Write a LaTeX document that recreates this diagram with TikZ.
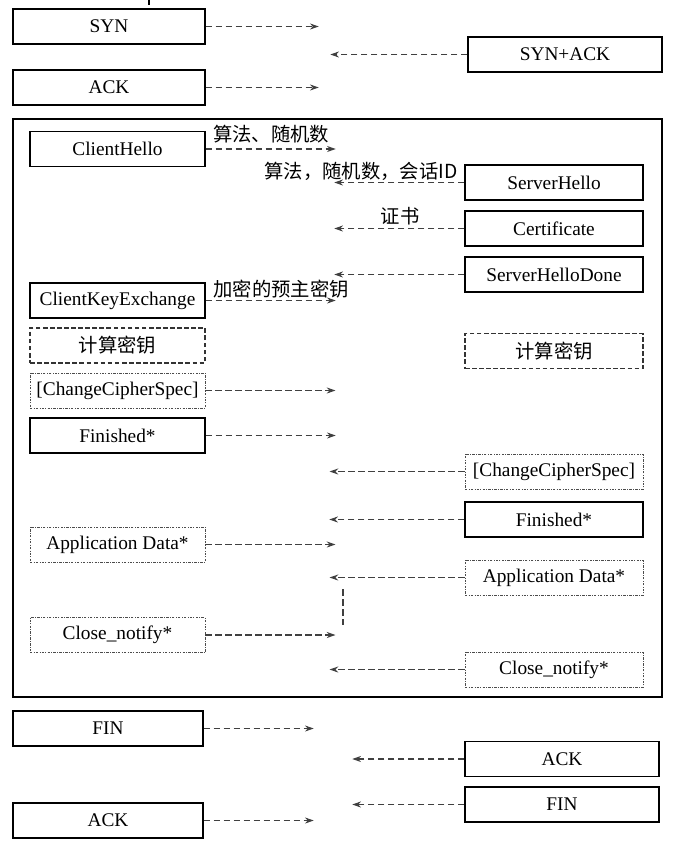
\documentclass[tikz,border=0pt]{standalone}
\usepackage{fontspec}
\setmainfont{Liberation Serif}
\newfontfamily\cjk{Noto Sans CJK SC}
\usetikzlibrary{arrows.meta}
\begin{document}
\begin{tikzpicture}[x=0.75pt,y=-0.75pt,
  font=\fontsize{14.5}{16}\selectfont,
  basebox/.style={minimum height=26.25pt, inner sep=0pt},
  sbox/.style={basebox, draw=black, line width=1.1pt},
  dbox/.style={basebox, draw=black!80, line width=0.8pt, dash pattern=on 3.5pt off 1.8pt},
  pbox/.style={basebox, draw=black!70, line width=0.7pt, dash pattern=on 1.8pt off 1pt on 0.6pt off 1pt},
  wide/.style={minimum width=144pt},
  lw/.style={minimum width=131.25pt},
  rw/.style={minimum width=133.5pt},
  msg/.style={draw=black!75, line width=0.9pt, dash pattern=on 5pt off 2.5pt,
    -{Stealth[length=6.5pt,width=4.5pt]}},
  lab/.style={font=\cjk\fontsize{14.5}{16}\selectfont, inner sep=0pt}]
\path[use as bounding box] (0,0) rectangle (676,856);

% small mark at top
\coordinate (m1) at (149,0);
\coordinate (m2) at (149,5);
\draw[line width=0.8pt] (m1) -- (m2);

% TCP handshake
\node[sbox,wide] (syn) at (109,26.5) {SYN};
\node[sbox,wide,minimum width=145.5pt] (synack) at (565,54.5) {SYN+ACK};
\node[sbox,wide] (ack1) at (109,87.5) {ACK};
\draw[msg] (syn.east) -- +(113,0);
\draw[msg] (synack.west) -- +(-137,0);
\draw[msg] (ack1.east) -- +(113,0);

% TLS frame
\node[draw=black, line width=1.1pt, minimum width=486.75pt, minimum height=433.5pt, inner sep=0pt] (frame) at (337.5,408) {};

\node[sbox,lw] (ch) at (117.5,149) {ClientHello};
\draw[msg] (ch.east) -- +(130,0);
\node[lab] (l1) at (271,134) {算法、随机数};

\node[sbox,rw] (sh) at (554,182.5) {ServerHello};
\draw[msg] (sh.west) -- +(-130,0);
\node[lab] (l2) at (361,171) {算法，随机数，会话ID};

\node[sbox,rw] (cert) at (554,228.5) {Certificate};
\draw[msg] (cert.west) -- +(-130,0);
\node[lab] (l3) at (400,216) {证书};

\node[sbox,rw] (shd) at (554,274.5) {ServerHelloDone};
\draw[msg] (shd.west) -- +(-130,0);

\node[sbox,lw] (cke) at (117.5,300.5) {ClientKeyExchange};
\draw[msg] (cke.east) -- +(130,0);
\node[lab] (l4) at (281,289) {加密的预主密钥};

\node[dbox,lw] (kl) at (117.5,345.5) {\cjk 计算密钥};
\node[dbox,rw] (kr) at (554,351) {\cjk 计算密钥};

\node[pbox,lw] (ccsl) at (117.5,390.5) {[ChangeCipherSpec]};
\draw[msg] (ccsl.east) -- +(130,0);

\node[sbox,lw] (finl) at (117.5,435.5) {Finished*};
\draw[msg] (finl.east) -- +(130,0);

\node[pbox,rw] (ccsr) at (554,471.5) {[ChangeCipherSpec]};
\draw[msg] (ccsr.west) -- +(-135,0);

\node[sbox,rw] (finr) at (554,519.5) {Finished*};
\draw[msg] (finr.west) -- +(-135,0);

\node[pbox,lw] (adl) at (117.5,544.5) {Application Data*};
\draw[msg] (adl.east) -- +(130,0);

\node[pbox,rw] (adr) at (554,577.5) {Application Data*};
\draw[msg] (adr.west) -- +(-135,0);

\coordinate (v1) at (343,589);
\coordinate (v2) at (343,625);
\draw[draw=black!75, line width=0.9pt, dash pattern=on 5pt off 2.5pt] (v1) -- (v2);

\node[pbox,lw] (cnl) at (117.5,635) {Close\_notify*};
\draw[msg] (cnl.east) -- +(130,0);

\node[pbox,rw] (cnr) at (554,669.5) {Close\_notify*};
\draw[msg] (cnr.west) -- +(-135,0);

% TCP teardown
\node[sbox,wide,minimum width=142.5pt] (fin1) at (108,728.5) {FIN};
\node[sbox,wide,minimum width=145.5pt] (ack2) at (562,759) {ACK};
\node[sbox,wide,minimum width=145.5pt] (fin2) at (562,804.5) {FIN};
\node[sbox,wide,minimum width=142.5pt] (ack3) at (108,820.5) {ACK};
\draw[msg] (fin1.east) -- +(110,0);
\draw[msg] (ack2.west) -- +(-112,0);
\draw[msg] (fin2.west) -- +(-112,0);
\draw[msg] (ack3.east) -- +(110,0);
\end{tikzpicture}
\end{document}
